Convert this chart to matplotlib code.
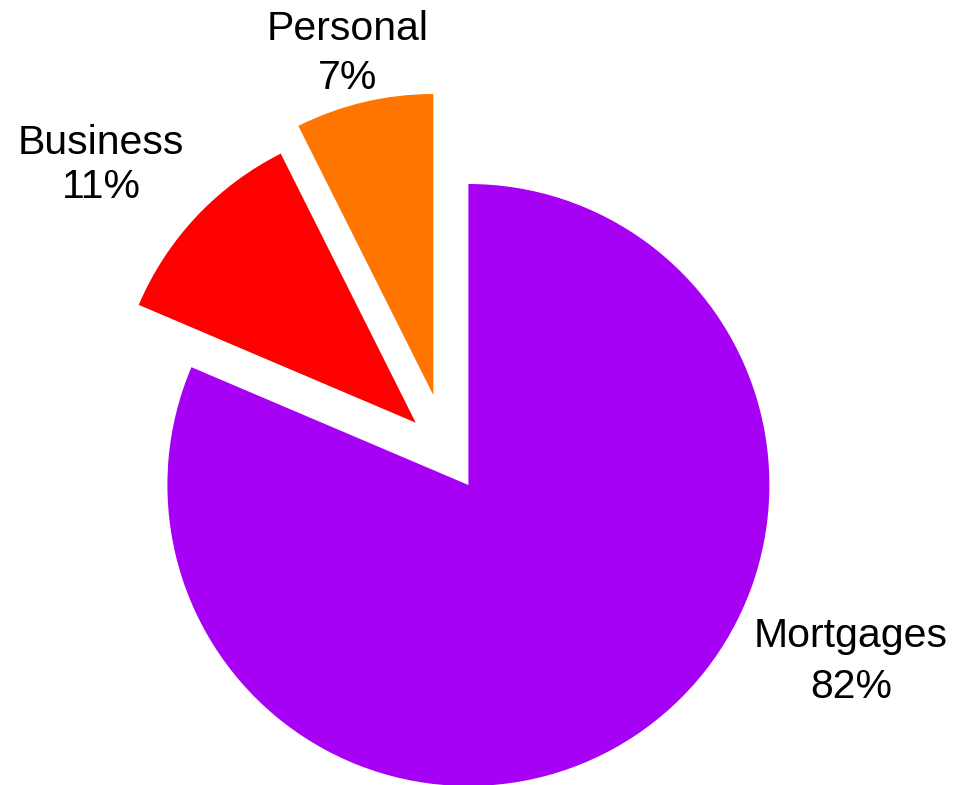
import matplotlib
matplotlib.use("Agg")
import matplotlib.pyplot as plt

categories = ["Mortgages", "Business", "Personal"]
values = [81.4, 11.2, 7.4]
pct_labels = ["82%", "11%", "7%"]
colors = ["#A600F5", "#FF0000", "#FF7500"]

# slice offsets (radius units), label anchors (radius units)
offsets = [(0.0, 0.0), (-0.175, 0.207), (-0.1166, 0.299)]
label_pos = [(1.271, -0.537, -0.707), (-1.221, 1.100, 0.953), (-0.402, 1.478, 1.316)]

W, H, DPI = 956, 785, 100
cx, cy, R = 468.4, 485.0, 301.0

fig = plt.figure(figsize=(W / DPI, H / DPI), dpi=DPI)
ax = fig.add_axes([0, 0, 1, 1])
wedges, _ = ax.pie(values, colors=colors, startangle=90, counterclock=False,
                   radius=1.0, wedgeprops=dict(linewidth=0))
for w, (dx, dy) in zip(wedges, offsets):
    w.set_center((dx, dy))

ax.set_xlim(-cx / R, (W - cx) / R)
ax.set_ylim(-(H - cy) / R, cy / R)
ax.set_aspect("equal")
ax.axis("off")

for name, pct, (x, y1, y2) in zip(categories, pct_labels, label_pos):
    ax.text(x, y1, name, ha="center", va="baseline", fontsize=29.5,
            family="Liberation Sans", color="black")
    ax.text(x, y2, pct, ha="center", va="baseline", fontsize=29.5,
            family="Liberation Sans", color="black")

fig.savefig("out.png", dpi=DPI)
